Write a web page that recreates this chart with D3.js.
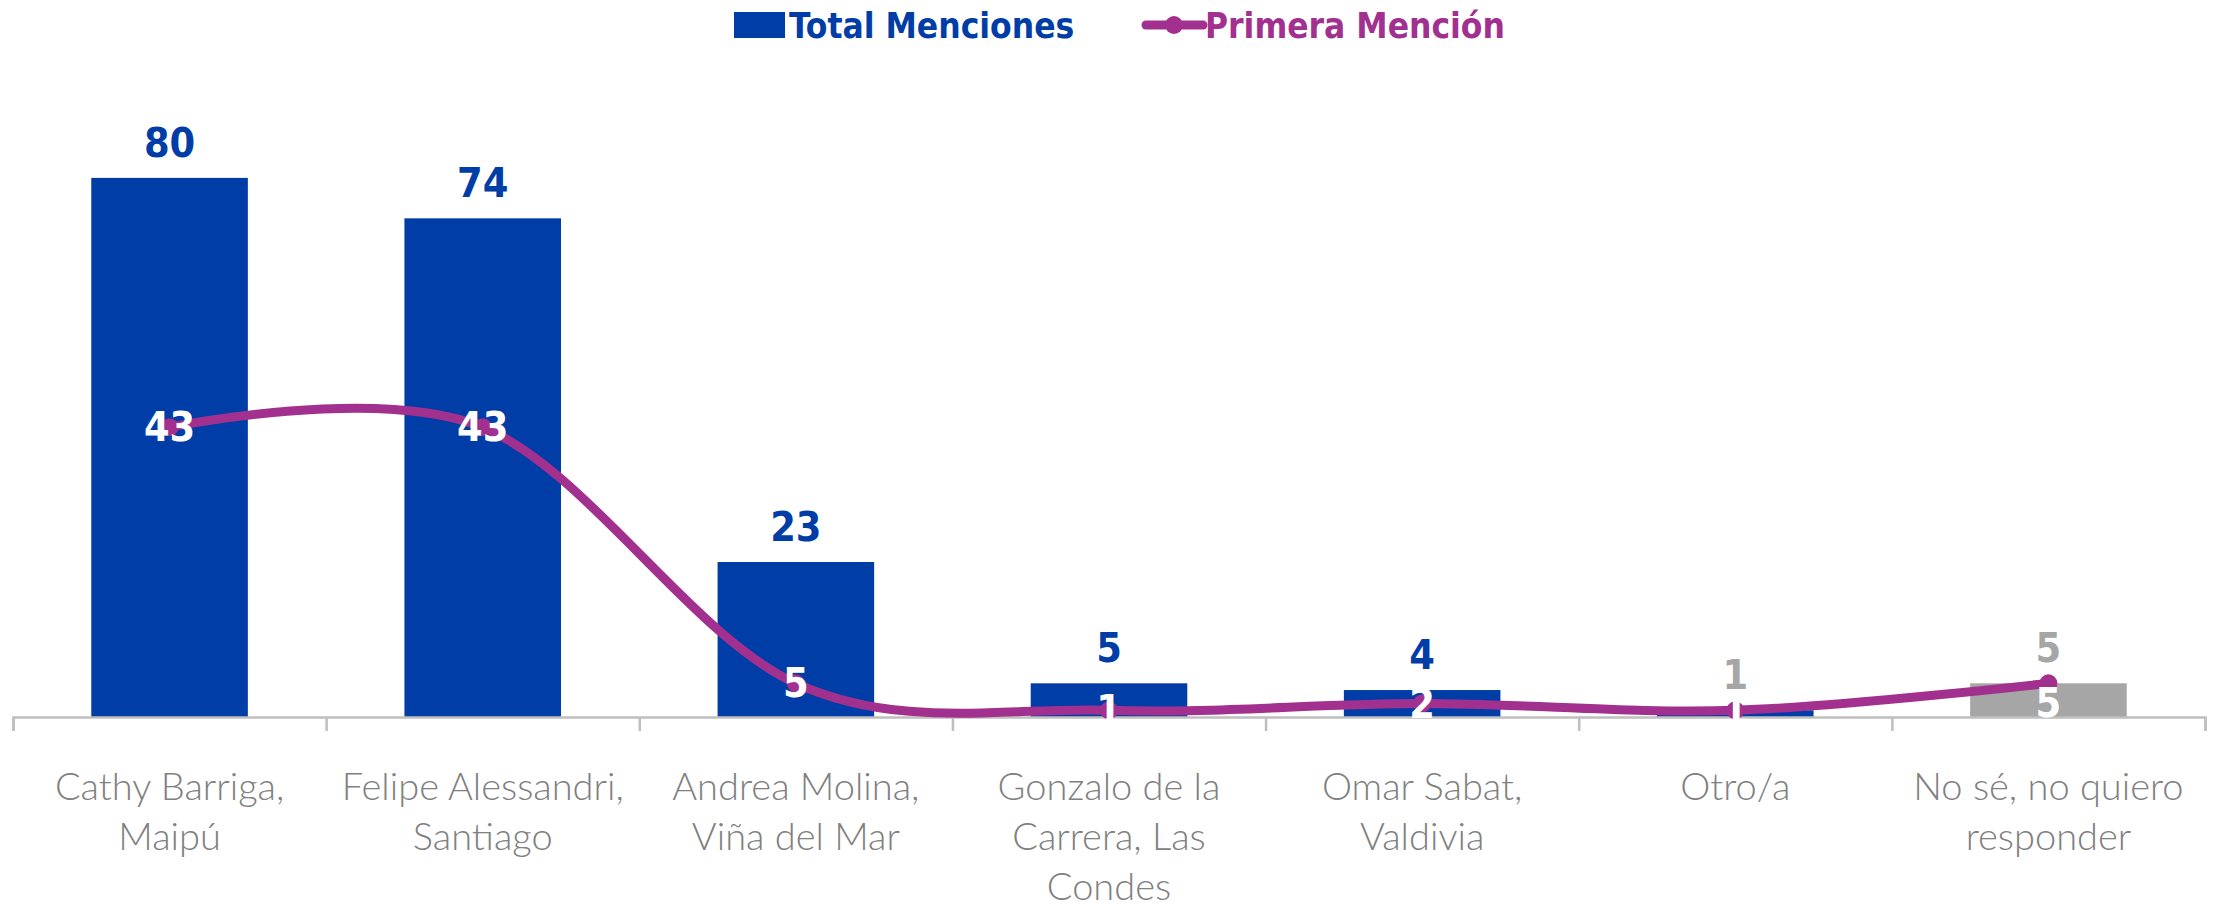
<!DOCTYPE html>
<html>
<head>
<meta charset="utf-8">
<script src="https://cdn.jsdelivr.net/npm/d3@7"></script>
<style>
  html, body { margin: 0; padding: 0; background: #fff; }
  svg { display: block; }
</style>
</head>
<body>
<svg id="chart"></svg>
<script>
// chart data
const categories = [
    "Cathy Barriga, Maipú",
    "Felipe Alessandri, Santiago",
    "Andrea Molina, Viña del Mar",
    "Gonzalo de la Carrera, Las Condes",
    "Omar Sabat, Valdivia",
    "Otro/a",
    "No sé, no quiero responder"
];
const tickLabels = [
    ["Cathy Barriga,", "Maipú"],
    ["Felipe Alessandri,", "Santiago"],
    ["Andrea Molina,", "Viña del Mar"],
    ["Gonzalo de la", "Carrera, Las", "Condes"],
    ["Omar Sabat,", "Valdivia"],
    ["Otro/a"],
    ["No sé, no quiero", "responder"]
];
const totalMenciones = [80, 74, 23, 5, 4, 1, 5];
const primeraMencion = [43, 43, 5, 1, 2, 1, 5];
const seriesNames = ["Total Menciones", "Primera Mención"];

const width = 2226, height = 907;
const blue = "#003DA6", purple = "#A2308F", grey = "#A6A6A6";
const labelFont = "'DejaVu Sans Condensed', 'DejaVu Sans', sans-serif";

const svg = d3.select("#chart").attr("width", width).attr("height", height);

const x = d3.scaleBand()
    .domain(categories)
    .range([13, 2205])
    .paddingInner(0.5)
    .paddingOuter(0.25);

const y = d3.scaleLinear().domain([0, 90]).range([717, 110.5]);

const barColor = (d, i) => i === categories.length - 1 ? grey : blue;
const barLabelColor = (d, i) => i >= categories.length - 2 ? grey : blue;

// bars
svg.append("g").selectAll("rect")
    .data(totalMenciones)
    .join("rect")
    .attr("x", (d, i) => x(categories[i]))
    .attr("y", d => y(d))
    .attr("width", x.bandwidth())
    .attr("height", d => y(0) - y(d))
    .attr("fill", barColor);

// x axis: boundary ticks
const bounds = d3.scaleLinear().domain([0, categories.length]).range(x.range());
svg.append("g")
    .attr("transform", `translate(0, ${y(0)})`)
    .call(d3.axisBottom(bounds).ticks(categories.length).tickFormat("").tickSize(14).tickSizeOuter(14))
    .call(g => g.selectAll("path, line").attr("stroke", "#BFBFBF").attr("stroke-width", 2.5));

// category labels
const labelAxis = svg.append("g")
    .attr("transform", `translate(0, ${y(0)})`)
    .call(d3.axisBottom(x).tickSize(0).tickFormat(""));
labelAxis.select(".domain").remove();
labelAxis.selectAll(".tick").each(function(d, i) {
    const t = d3.select(this).append("text")
        .attr("fill", "#808080")
        .attr("font-family", "Lato, sans-serif")
        .attr("font-weight", 300)
        .attr("font-size", 38)
        .attr("text-anchor", "middle");
    tickLabels[i].forEach((line, j) => {
        t.append("tspan").attr("x", 0).attr("y", 83 + j * 50).text(line);
    });
});

// bar value labels
svg.append("g").selectAll("text")
    .data(totalMenciones)
    .join("text")
    .attr("x", (d, i) => x(categories[i]) + x.bandwidth() / 2)
    .attr("y", d => y(d) - 21)
    .attr("text-anchor", "middle")
    .attr("font-family", labelFont)
    .attr("font-weight", "bold")
    .attr("font-size", 41)
    .attr("fill", barLabelColor)
    .text(d => d);

// smoothed line
const cx = i => x(categories[i]) + x.bandwidth() / 2;
const line = d3.line()
    .x((d, i) => cx(i))
    .y(d => y(d))
    .curve(d3.curveCatmullRom.alpha(0));

svg.append("path")
    .datum(primeraMencion)
    .attr("d", line)
    .attr("fill", "none")
    .attr("stroke", purple)
    .attr("stroke-width", 9);

svg.append("g").selectAll("circle")
    .data(primeraMencion)
    .join("circle")
    .attr("cx", (d, i) => cx(i))
    .attr("cy", d => y(d))
    .attr("r", 9)
    .attr("fill", purple);

// line value labels
svg.append("g").selectAll("text")
    .data(primeraMencion)
    .join("text")
    .attr("x", (d, i) => cx(i))
    .attr("y", (d, i) => y(d) + (i === categories.length - 1 ? 34 : 14))
    .attr("text-anchor", "middle")
    .attr("font-family", labelFont)
    .attr("font-weight", "bold")
    .attr("font-size", 41)
    .attr("fill", "#fff")
    .text(d => d);

// legend
const legend = svg.append("g").attr("font-family", labelFont).attr("font-weight", "bold").attr("font-size", 35);
legend.append("rect").attr("x", 734).attr("y", 12).attr("width", 51).attr("height", 26).attr("fill", blue);
legend.append("text").attr("x", 789).attr("y", 38).attr("fill", blue).text(seriesNames[0]);
legend.append("line").attr("x1", 1146).attr("x2", 1203).attr("y1", 25).attr("y2", 25)
    .attr("stroke", purple).attr("stroke-width", 9).attr("stroke-linecap", "round");
legend.append("circle").attr("cx", 1174).attr("cy", 25).attr("r", 9).attr("fill", purple);
legend.append("text").attr("x", 1205).attr("y", 38).attr("fill", purple).text(seriesNames[1]);
</script>
</body>
</html>
